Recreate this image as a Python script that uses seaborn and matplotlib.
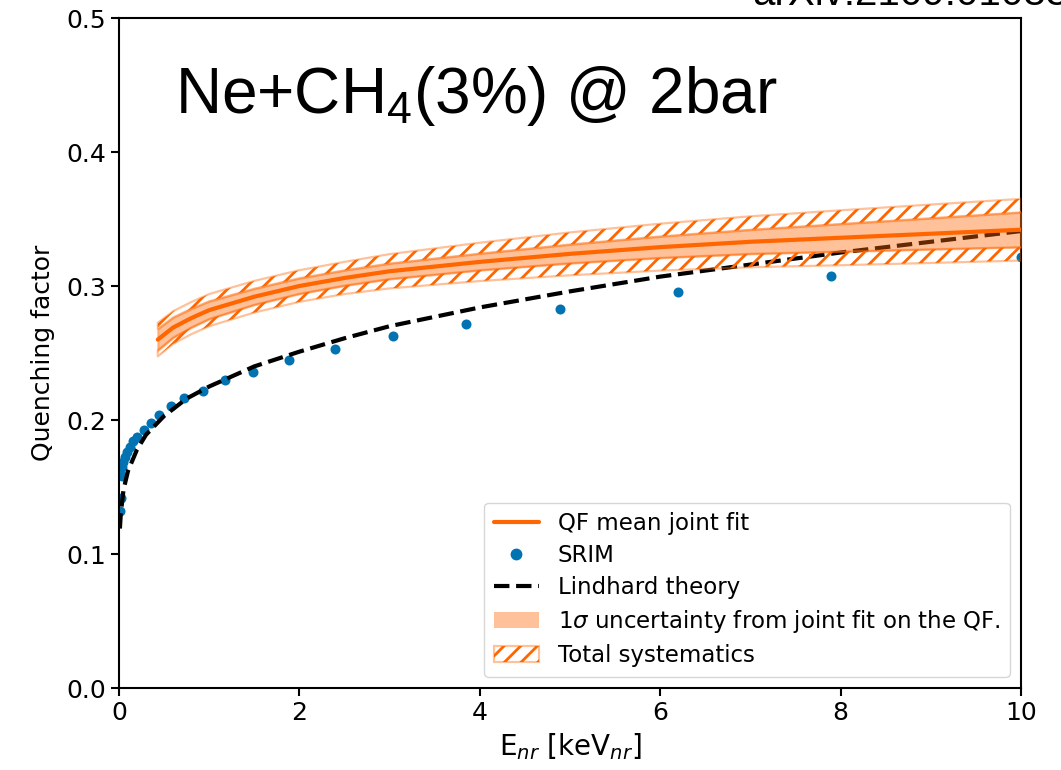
import matplotlib
matplotlib.use("Agg")
import matplotlib.pyplot as plt
import seaborn as sns
import numpy as np
from matplotlib.lines import Line2D
from matplotlib.patches import Patch
from matplotlib.legend_handler import HandlerTuple

# ---------------- data ----------------
srim_energy = [0.012, 0.02, 0.03, 0.036, 0.048, 0.066, 0.085, 0.122, 0.159, 0.203,
               0.274, 0.351, 0.447, 0.573, 0.724, 0.928, 1.175, 1.49, 1.89, 2.39,
               3.04, 3.85, 4.89, 6.20, 7.89, 10.0]
srim_qf = [0.132, 0.142, 0.158, 0.165, 0.169, 0.1726, 0.176, 0.180, 0.184, 0.1875,
           0.1925, 0.1975, 0.204, 0.2107, 0.2166, 0.2216, 0.2295, 0.2356, 0.2448, 0.253,
           0.2627, 0.272, 0.283, 0.2955, 0.3075, 0.3216]

lindhard_energy = [0.01, 0.02, 0.05, 0.1, 0.2, 0.3, 0.5, 0.75, 1.0, 1.5, 2.0, 2.5,
                   3.0, 4.0, 5.0, 6.0, 7.0, 8.0, 9.0, 10.0]
lindhard_qf = [0.119, 0.130, 0.148, 0.162, 0.178, 0.189, 0.203, 0.216, 0.225, 0.240,
               0.251, 0.261, 0.270, 0.284, 0.296, 0.307, 0.316, 0.325, 0.333, 0.341]

fit_energy = [0.43, 0.6, 0.8, 1.0, 1.5, 2.0, 2.5, 3.0, 4.0, 5.0, 6.0, 7.0, 8.0, 9.0, 10.0]
fit_qf = [0.260, 0.269, 0.276, 0.282, 0.292, 0.300, 0.306, 0.311, 0.318, 0.324,
          0.329, 0.333, 0.336, 0.339, 0.342]
stat_halfwidth = [0.008, 0.0075, 0.007, 0.0066, 0.006, 0.0058, 0.0057, 0.0058, 0.0062,
                  0.007, 0.008, 0.009, 0.0103, 0.0116, 0.013]
sys_halfwidth = [0.0125, 0.0122, 0.012, 0.012, 0.0118, 0.0118, 0.012, 0.0128, 0.0143,
                 0.016, 0.0175, 0.019, 0.0205, 0.0218, 0.023]

x_ticks = [0, 2, 4, 6, 8, 10]
y_ticks = [0.0, 0.1, 0.2, 0.3, 0.4, 0.5]

title_text = r"Ne+CH$\mathregular{_4}$(3%) @ 2bar"
source_text = "arXiv:2109.01083"

# ---------------- style ----------------
sns.set_style("ticks")
plt.rcParams["font.family"] = ["DejaVu Sans"]
plt.rcParams["hatch.linewidth"] = 2.0
plt.rcParams["axes.linewidth"] = 1.5
for key in ["text.color", "axes.labelcolor", "xtick.color", "ytick.color", "axes.edgecolor"]:
    plt.rcParams[key] = "black"

ORANGE = "#ff6600"
LIGHT_ORANGE = (1.0, 0.4, 0.0, 0.4)
BLUE = "#0173b2"

fig = plt.figure(figsize=(10.61, 7.70), dpi=100)
ax = fig.add_axes([0.11216, 0.10649, 0.85014, 0.87013])

fe = np.array(fit_energy)
fq = np.array(fit_qf)
st = np.array(stat_halfwidth)
sy = np.array(sys_halfwidth)

# SRIM points
sns.scatterplot(x=srim_energy, y=srim_qf, ax=ax, color=BLUE, s=52,
                edgecolor=BLUE, linewidth=0, zorder=2, legend=False)
# Lindhard
sns.lineplot(x=lindhard_energy, y=lindhard_qf, ax=ax, color="black", lw=3,
             linestyle="--", zorder=3, legend=False)
# systematic bands (hatched, outside the statistical band)
for lo, hi in [(fq + st, fq + sy), (fq - sy, fq - st)]:
    ax.fill_between(fe, lo, hi, facecolor="none", edgecolor=ORANGE,
                    hatch="//", linewidth=0, zorder=4)
    ax.fill_between(fe, lo, hi, facecolor="none", edgecolor=LIGHT_ORANGE,
                    linewidth=1.6, zorder=4)
# stat band
ax.fill_between(fe, fq - st, fq + st, color=ORANGE, alpha=0.4,
                linewidth=1.5, zorder=5)
# mean fit
sns.lineplot(x=fit_energy, y=fit_qf, ax=ax, color=ORANGE, lw=3, zorder=6,
             legend=False)

ax.set_xlim(0, 10)
ax.set_ylim(0, 0.5)
ax.set_xticks(x_ticks)
ax.set_yticks(y_ticks)
ax.set_yticklabels([f"{v:.1f}" for v in y_ticks])
ax.tick_params(axis="both", labelsize=18, length=6, width=1.5, direction="out")
for sp in ax.spines.values():
    sp.set_visible(True)
    sp.set_color("black")
    sp.set_linewidth(1.5)

ax.set_xlabel(r"E$_{nr}$ [keV$_{nr}$]", fontsize=20, labelpad=4)
ax.set_ylabel("Quenching factor", fontsize=18, labelpad=8)

ax.text(0.062, 0.858, title_text, transform=ax.transAxes, fontsize=46,
        family="Liberation Sans", ha="left", va="baseline", color="black")
fig.text(0.709, 0.9935, source_text, fontsize=29, family="Liberation Sans",
         ha="left", va="baseline", color="black")

hatch_handle = (Patch(facecolor="white", edgecolor=ORANGE, hatch="//", linewidth=0),
                Patch(facecolor="none", edgecolor=LIGHT_ORANGE, linewidth=1.6))
handles = [
    Line2D([], [], color=ORANGE, lw=3),
    Line2D([], [], color=BLUE, marker="o", linestyle="none", markersize=7.5),
    Line2D([], [], color="black", lw=3, linestyle="--"),
    Patch(facecolor=ORANGE, alpha=0.4, edgecolor="none"),
    hatch_handle,
]
labels = ["QF mean joint fit", "SRIM", "Lindhard theory",
          r"1$\sigma$ uncertainty from joint fit on the QF.", "Total systematics"]
leg = ax.legend(handles, labels, loc="lower right", fontsize=16.5, frameon=True,
                fancybox=True, framealpha=0.8, edgecolor="#cccccc",
                borderaxespad=0.5, handlelength=2.0, labelspacing=0.4,
                handler_map={tuple: HandlerTuple(ndivide=1, pad=0)})

fig.savefig("out.png", dpi=100)
